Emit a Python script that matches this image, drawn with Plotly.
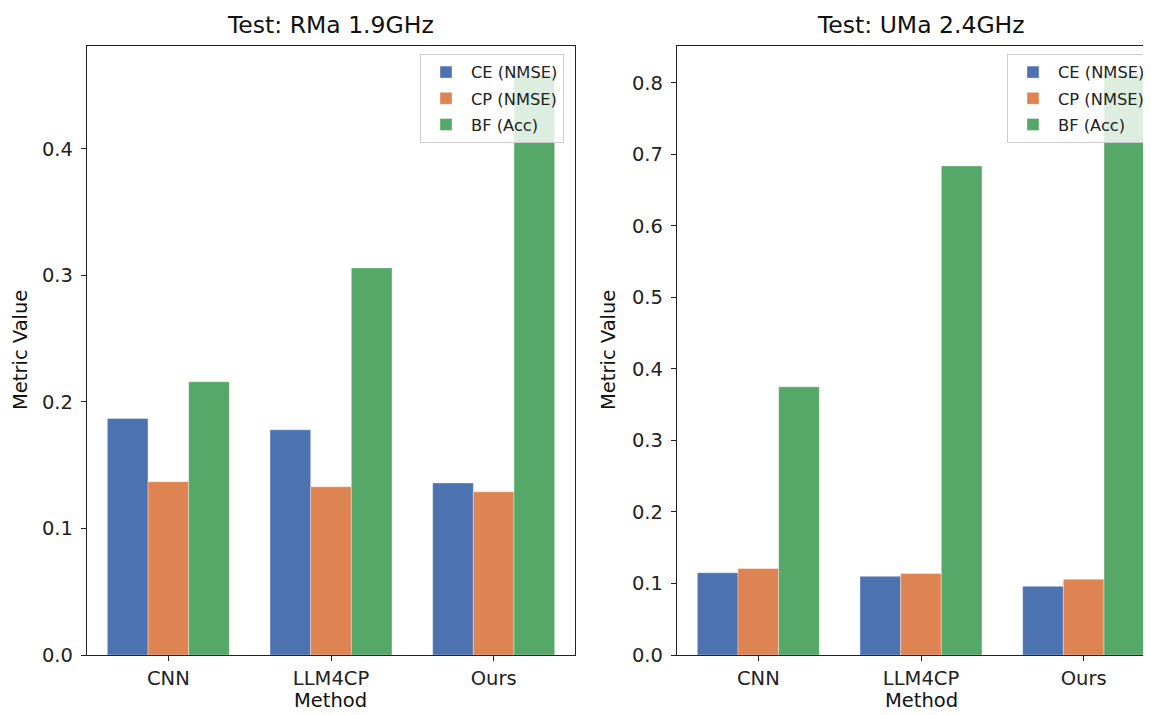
import plotly.graph_objects as go

methods = ["CNN", "LLM4CP", "Ours"]
series_names = ["CE (NMSE)", "CP (NMSE)", "BF (Acc)"]
colors = ["#4C72B0", "#DD8452", "#55A868"]

# Test: RMa 1.9GHz
rma_ce = [0.187, 0.178, 0.136]
rma_cp = [0.137, 0.133, 0.129]
rma_bf = [0.216, 0.306, 0.4585]

# Test: UMa 2.4GHz
uma_ce = [0.115, 0.110, 0.096]
uma_cp = [0.121, 0.114, 0.106]
uma_bf = [0.375, 0.684, 0.811]

OFF = 8  # page body margin
W, H = 1151 - OFF, 715 - OFF
def px(x): return (x - OFF) / W
def py(y): return 1 - (y - OFF) / H

fig = go.Figure()
left_vals = [rma_ce, rma_cp, rma_bf]
right_vals = [uma_ce, uma_cp, uma_bf]
for i, name in enumerate(series_names):
    fig.add_trace(go.Bar(x=methods, y=left_vals[i], name=name, marker_color=colors[i],
                         marker_line=dict(color="rgba(255,255,255,0.6)", width=0.6),
                         xaxis="x", yaxis="y", legend="legend", legendgroup="L" + str(i),
                         offsetgroup=str(i)))
for i, name in enumerate(series_names):
    fig.add_trace(go.Bar(x=methods, y=right_vals[i], name=name, marker_color=colors[i],
                         marker_line=dict(color="rgba(255,255,255,0.6)", width=0.6),
                         xaxis="x2", yaxis="y2", legend="legend2", legendgroup="R" + str(i),
                         offsetgroup=str(i)))

font_family = "DejaVu Sans"
tick_font = dict(family=font_family, size=19.5, color="#222")
axis_common = dict(showline=True, linecolor="#222", linewidth=1.3, ticks="outside",
                   ticklen=5, tickwidth=1.3, tickcolor="#222", showgrid=False,
                   zeroline=False, tickfont=tick_font)

ydom = [py(655), py(46)]
legend_common = dict(xanchor="left", yanchor="top",
                     bgcolor="rgba(255,255,255,0.8)", bordercolor="#cccccc", borderwidth=1,
                     font=dict(family=font_family, size=16.3, color="#222"),
                     tracegroupgap=2, itemwidth=40)
right_end = 1151
right_units = (right_end - 677) / (488 / 3)
fig.update_layout(
    width=W, height=H,
    margin=dict(l=0, r=0, t=0, b=0, autoexpand=False),
    plot_bgcolor="white", paper_bgcolor="white",
    barmode="group", bargap=0.25, bargroupgap=0,
    font=dict(family=font_family, color="#222"),
    xaxis=dict(domain=[px(87), px(575)], range=[-0.5, 2.5], mirror=True, anchor="y",
               ticklabelstandoff=0, **axis_common),
    yaxis=dict(domain=ydom, range=[0, 0.4814], tickvals=[0, 0.1, 0.2, 0.3, 0.4], tickformat=".1f",
               mirror=True, anchor="x", ticklabelstandoff=4, **axis_common),
    xaxis2=dict(domain=[px(677), min(1.0, px(right_end))], range=[-0.5, -0.5 + right_units],
                mirror=True, anchor="y2", ticklabelstandoff=0, **axis_common),
    yaxis2=dict(domain=ydom, range=[0, 0.8517], tickvals=[0, 0.1, 0.2, 0.3, 0.4, 0.5, 0.6, 0.7, 0.8],
                tickformat=".1f", mirror=False, anchor="x2", ticklabelstandoff=4, **axis_common),
    legend=dict(x=px(420), y=py(54), **legend_common),
    legend2=dict(x=px(1007), y=py(54), **legend_common),
)

annots = [
    dict(text="Test: RMa 1.9GHz", x=px(331), y=py(25), size=23.5),
    dict(text="Test: UMa 2.4GHz", x=px(921), y=py(25), size=23.5),
    dict(text="Method", x=px(331), y=py(700), size=19.5),
    dict(text="Method", x=px(921), y=py(700), size=19.5),
]
for a in annots:
    fig.add_annotation(text=a["text"], x=a["x"], y=a["y"], xref="paper", yref="paper",
                       xanchor="center", yanchor="middle", showarrow=False,
                       font=dict(family=font_family, size=a["size"], color="#111"))
for xc in (20, 608):
    fig.add_annotation(text="Metric Value", x=px(xc), y=py(350), xref="paper", yref="paper",
                       xanchor="center", yanchor="middle", showarrow=False, textangle=-90,
                       font=dict(family=font_family, size=19.5, color="#111"))

fig.write_html("out.html")
